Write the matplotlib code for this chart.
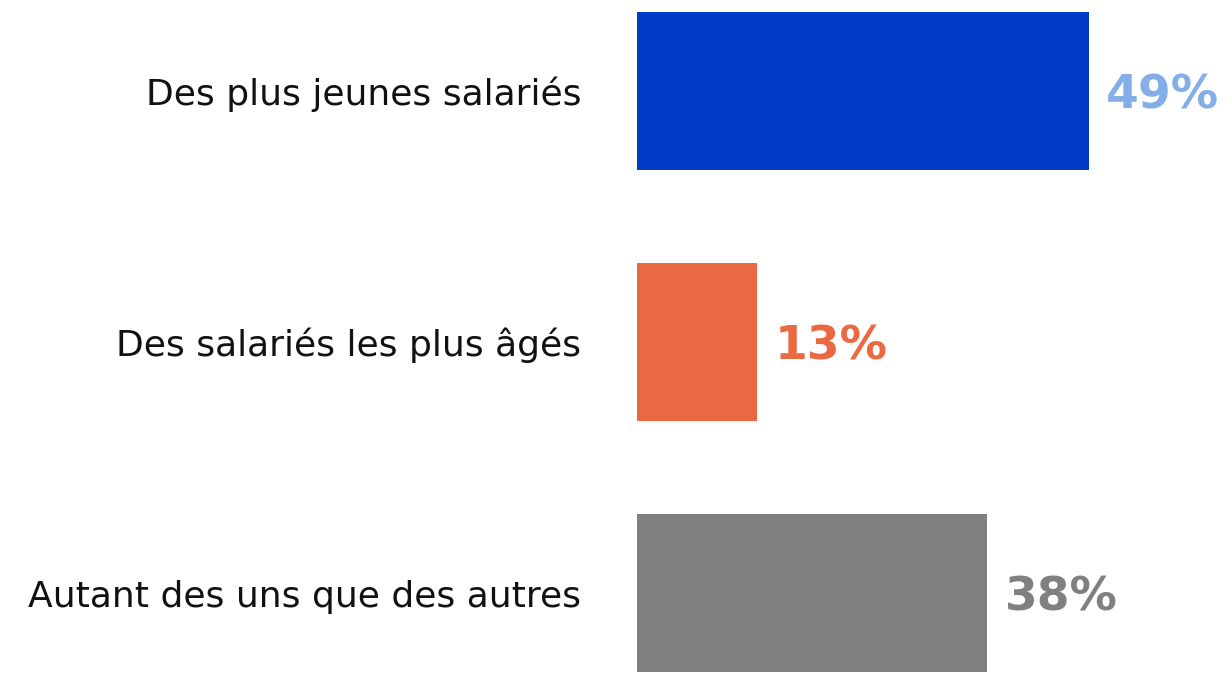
import matplotlib.pyplot as plt

categories = ['Des plus jeunes salariés', 'Des salariés les plus âgés', 'Autant des uns que des autres']
values = [49, 13, 38]
bar_colors = ['#013AC4', '#EB6942', '#808080']
label_colors = ['#84AEE8', '#EB6942', '#808080']

fig = plt.figure(figsize=(12.3, 6.78), dpi=100)
ax = fig.add_axes([637 / 1230, 0, 1 - 637 / 1230, 1])

y = list(range(len(categories)))
bars = ax.barh(y, values, height=0.63, color=bar_colors)

ax.set_xlim(0, 593 / 9.22)
ax.set_ylim((678 - 91) / 251, -91 / 251)

ax.set_yticks(y)
ax.set_yticklabels(categories, fontsize=26, family='DejaVu Sans', color='#111111')
ax.tick_params(axis='y', length=0, pad=40)
ax.set_xticks([])
for s in ax.spines.values():
    s.set_visible(False)

for rect, v, c in zip(bars, values, label_colors):
    ax.text(v + 1.9, rect.get_y() + rect.get_height() / 2 + 0.02, f'{v}%',
            ha='left', va='center', fontsize=34, fontweight='bold',
            family='DejaVu Sans', color=c)

fig.savefig('out.png', dpi=100)
